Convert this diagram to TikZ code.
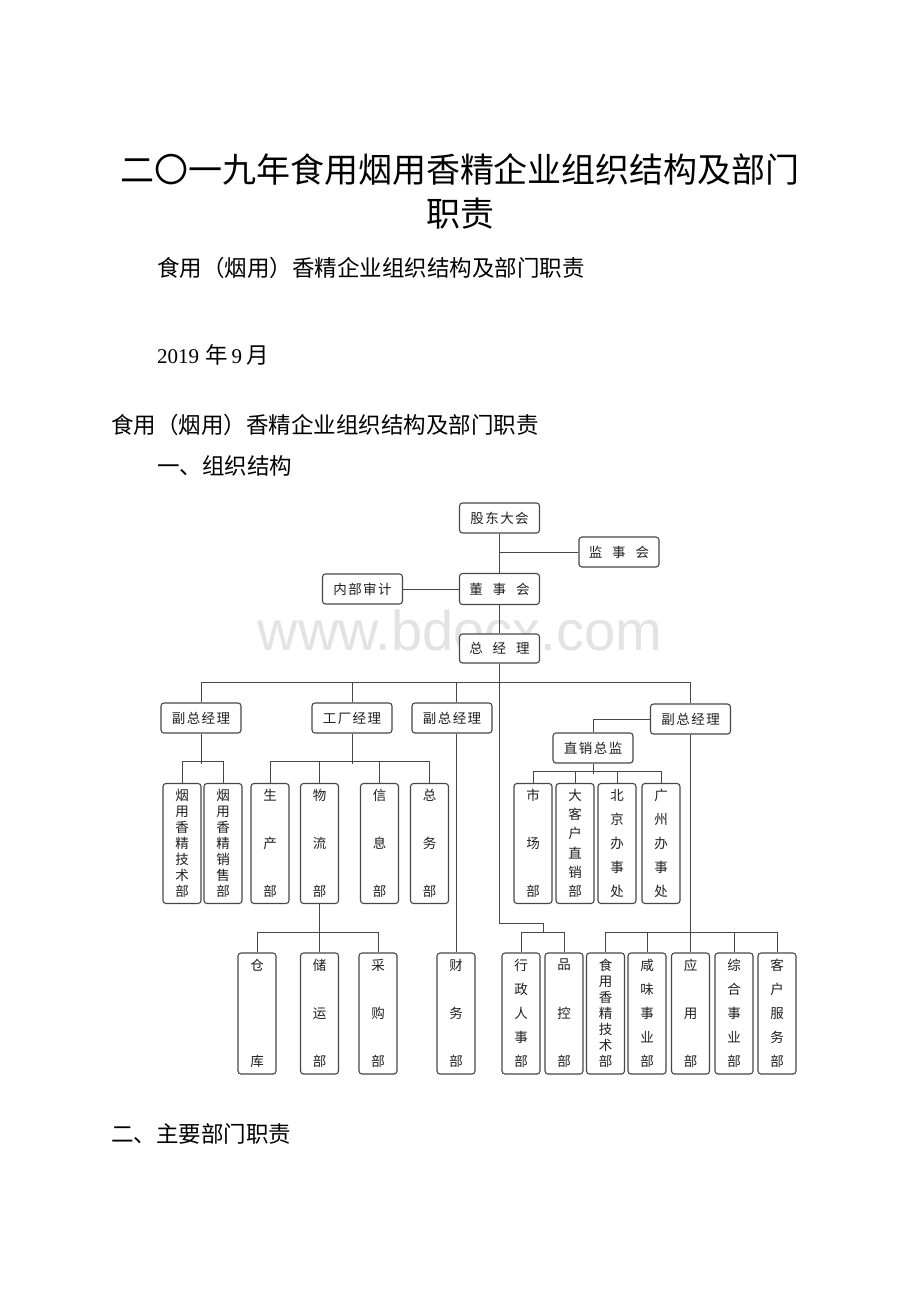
\documentclass[tikz,border=0pt]{standalone}
\usepackage{fontspec}
\setmainfont{Noto Sans CJK SC}
\newfontfamily\latinfont{Liberation Serif}
\newfontfamily\wmfont{Liberation Sans}
\colorlet{linec}{black!72}
\newcommand\ks{\kern1.5pt}
\newcommand\kw{\kern10pt}
\ExplSyntaxOn
\seq_new:N \l_vt_seq
\NewDocumentCommand\vt{m}{
  \seq_clear:N \l_vt_seq
  \tl_map_inline:nn {#1}{\seq_put_right:Nn \l_vt_seq {##1}}
  \parbox[c][108pt][s]{18pt}{\centering\seq_use:Nn \l_vt_seq {\par\vfill}\par}
}
\ExplSyntaxOff
\begin{document}
\begin{tikzpicture}[x=1pt,y=-1pt,
  box/.style={draw=linec, line width=1.1pt, rounded corners=3pt, fill=white, inner sep=0pt,
    text=black!88, font=\fontsize{13.5}{14.5}\selectfont},
  hb/.style={box, minimum width=80pt, minimum height=30pt},
  vb/.style={box, minimum width=38pt, minimum height=120pt},
  vb2/.style={box, minimum width=38pt, minimum height=121pt},
  conn/.style={draw=linec, line width=1pt},
  txt/.style={inner sep=0pt, anchor=west, font=\fontsize{22.5}{24}\selectfont}]
\useasboundingbox (0,0) rectangle (920,1302);
\fill[white] (0,0) rectangle (920,1302);

% header texts
\node[inner sep=0pt, font=\fontsize{34}{36}\selectfont] (t1) at (460,170) {二〇一九年食用烟用香精企业组织结构及部门};
\node[inner sep=0pt, font=\fontsize{34}{36}\selectfont] (t2) at (460,214) {职责};
\node[txt] (s1) at (157,268) {食用（烟用）香精企业组织结构及部门职责};
\node[txt] (s2) at (157,355) {{\latinfont\fontsize{21}{24}\selectfont 2019}\kern6pt 年\kern4pt{\latinfont\fontsize{21}{24}\selectfont 9}\kern4pt 月};
\node[txt] (s3) at (111,425) {食用（烟用）香精企业组织结构及部门职责};
\node[txt] (s4) at (157,466) {一、组织结构};
\node[txt] (s5) at (111,1134) {二、主要部门职责};

% watermark
\node[inner sep=0pt, anchor=base, text=black!11, font=\wmfont\fontsize{56}{56}\selectfont] (wm) at (460,650.5) {www.bdocx.com};

% top boxes
\node[hb] (gd) at (499.5,518) {股\ks 东\ks 大\ks 会};
\node[hb] (js) at (619,552) {监\kw 事\kw 会};
\node[hb] (nb) at (362.5,589) {内\ks 部\ks 审\ks 计};
\node[hb, minimum height=31pt] (ds) at (499.5,589) {董\kw 事\kw 会};
\node[hb, minimum height=29pt] (zj) at (499.5,648.5) {总\kw 经\kw 理};

% level 2
\node[hb] (fz1) at (201,718) {副\ks 总\ks 经\ks 理};
\node[hb] (gc) at (352,718) {工\ks 厂\ks 经\ks 理};
\node[hb] (fz2) at (452,718) {副\ks 总\ks 经\ks 理};
\node[hb] (fz3) at (690.5,719) {副\ks 总\ks 经\ks 理};
\node[hb] (zx) at (593,748) {直\ks 销\ks 总\ks 监};

% row 1
\node[vb] (yj) at (182,843.5) {\vt{烟用香精技术部}};
\node[vb] (yx) at (223,843.5) {\vt{烟用香精销售部}};
\node[vb] (sc) at (270,843.5) {\vt{生产部}};
\node[vb] (wl) at (319.5,843.5) {\vt{物流部}};
\node[vb] (xx) at (379.5,843.5) {\vt{信息部}};
\node[vb] (zw) at (429.5,843.5) {\vt{总务部}};
\node[vb] (sch) at (533,843.5) {\vt{市场部}};
\node[vb] (dkh) at (575,843.5) {\vt{大客户直销部}};
\node[vb] (bj) at (617,843.5) {\vt{北京办事处}};
\node[vb] (gz) at (661,843.5) {\vt{广州办事处}};

% row 2
\node[vb2] (ck) at (257,1013.5) {\vt{仓库}};
\node[vb2] (cy) at (319.5,1013.5) {\vt{储运部}};
\node[vb2] (cg) at (378,1013.5) {\vt{采购部}};
\node[vb2] (cw) at (456,1013.5) {\vt{财务部}};
\node[vb2] (xz) at (521,1013.5) {\vt{行政人事部}};
\node[vb2] (pk) at (564,1013.5) {\vt{品控部}};
\node[vb2] (sy) at (605.5,1013.5) {\vt{食用香精技术部}};
\node[vb2] (xw) at (647,1013.5) {\vt{咸味事业部}};
\node[vb2] (yy) at (690.5,1013.5) {\vt{应用部}};
\node[vb2] (zh) at (734,1013.5) {\vt{综合事业部}};
\node[vb2] (kf) at (777,1013.5) {\vt{客户服务部}};

% connectors top
\draw[conn] (gd.south) -- (ds.north);
\draw[conn] (ds.south) -- (zj.north);
\draw[conn] (js.west) -- (js.west -| gd.south);
\draw[conn] (nb.east) -- (nb.east -| ds.west);

% main bus
\draw[conn] (fz1.north) -- ++(0,-20) -| (fz3.north);
\draw[conn] (gc.north) -- ++(0,-20);
\draw[conn] (fz2.north -| cw.north) -- ++(0,-20);
\draw[conn] (zj.south) |- (543,923) -- (543,933);
\draw[conn] (fz2.south -| cw.north) -- (cw.north);

% fz1 group
\draw[conn] (fz1.south) -- ++(0,30);
\draw[conn] (yj.north) -- ++(0,-21) -| (yx.north);
% factory group
\draw[conn] (gc.south) -- ++(0,30);
\draw[conn] (sc.north) -- ++(0,-21) -| (zw.north);
\draw[conn] (wl.north) -- ++(0,-21);
\draw[conn] (xx.north) -- ++(0,-21);
% direct sales
\draw[conn] (fz3.west) -| (zx.north);
\draw[conn] (zx.south) -- ++(0,10);
\draw[conn] (sch.north) -- ++(0,-11) -| (gz.north);
\draw[conn] (dkh.north) -- ++(0,-11);
\draw[conn] (bj.north) -- ++(0,-11);
% logistics
\draw[conn] (wl.south) -- (cy.north);
\draw[conn] (ck.north) -- ++(0,-20) -| (cg.north);
% admin
\draw[conn] (xz.north) -- ++(0,-20) -| (pk.north);
% right group
\draw[conn] (fz3.south) -- (yy.north);
\draw[conn] (sy.north) -- ++(0,-20) -| (kf.north);
\draw[conn] (xw.north) -- ++(0,-20);
\draw[conn] (zh.north) -- ++(0,-20);
\end{tikzpicture}
\end{document}
